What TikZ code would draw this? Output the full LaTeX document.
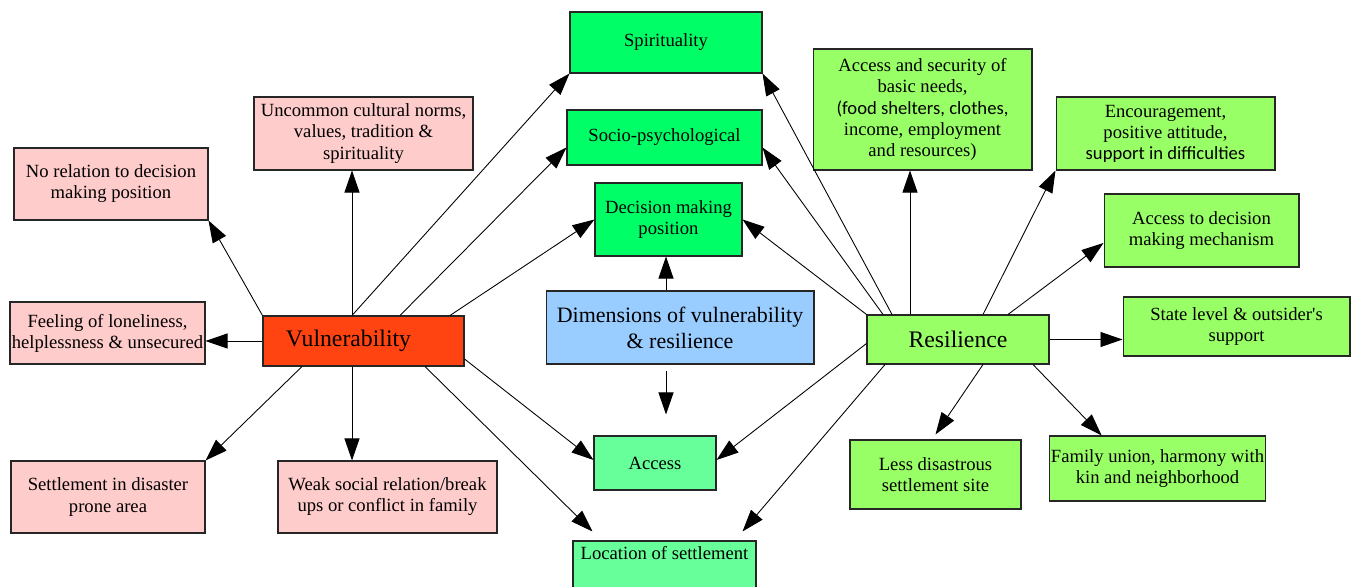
\documentclass[tikz,border=0pt]{standalone}
\usepackage{fontspec}
\setmainfont{Liberation Serif}
\newfontfamily\calib{Carlito}
\usepackage{tikz}
\usetikzlibrary{arrows.meta}

\definecolor{vulcol}{HTML}{FF4411}
\definecolor{pinkcol}{HTML}{FFCCCC}
\definecolor{rescol}{HTML}{99FF66}
\definecolor{dimcol}{HTML}{00FF66}
\definecolor{acccol}{HTML}{66FF99}
\definecolor{bluecol}{HTML}{99CCFF}

\tikzset{
  box/.style={draw=black!85, line width=0.6pt, align=center, inner sep=1pt,
    font=\fontsize{10.6}{12}\selectfont},
  vulbox/.style={box, fill=pinkcol},
  resbox/.style={box, fill=rescol},
  dimbox/.style={box, fill=dimcol},
  accbox/.style={box, fill=acccol},
  bigbox/.style={box, font=\fontsize{13.5}{16}\selectfont},
  arr/.style={-{Triangle[length=0.44cm,width=0.3cm]}, line width=0.5pt}
}

\begin{document}
\begin{tikzpicture}[x=0.02cm, y=-0.02cm]
\useasboundingbox (0,0) rectangle (1353,587);
\fill[white] (0,0) rectangle (1353,587);

\node[dimbox, minimum width=3.84cm, minimum height=1.22cm] (spir) at (666,42.5) {Spirituality};
\node[dimbox, minimum width=3.9cm, minimum height=1.1cm] (socio) at (664.5,137.5) {Socio-psychological};
\node[dimbox, minimum width=2.94cm, minimum height=1.46cm] (decis) at (668.5,219.5) {Decision making\\position};
\node[box, fill=bluecol, font=\fontsize{12.5}{14.7}\selectfont, minimum width=5.36cm, minimum height=1.46cm] (dims) at (680,327.5) {Dimensions of vulnerability\\\& resilience};
\node[accbox, minimum width=2.44cm, minimum height=1.08cm] (access) at (655,463) {Access};
\node[accbox, minimum width=3.66cm, minimum height=1.4cm, label={[anchor=north, inner sep=3pt, font=\fontsize{10.6}{12}\selectfont]north:Location of settlement}] (locat) at (664.5,576) {};

\node[bigbox, fill=vulcol, minimum width=4.02cm, minimum height=1.0cm] (vuln) at (363.5,341) {Vulnerability\hspace{0.6cm}};
\node[bigbox, fill=rescol, minimum width=3.64cm, minimum height=0.98cm] (resil) at (958,339.5) {Resilience};

\node[vulbox, minimum width=4.38cm, minimum height=1.46cm] (uncommon) at (363.5,133.5) {Uncommon cultural norms,\\values, tradition \&\\spirituality};
\node[vulbox, minimum width=3.88cm, minimum height=1.44cm] (norel) at (111,184) {No relation to decision\\making position};
\node[vulbox, minimum width=3.9cm, minimum height=1.24cm] (lonely) at (107.5,333) {Feeling of loneliness,\\helplessness \& unsecured};
\node[vulbox, minimum width=3.88cm, minimum height=1.44cm] (settle) at (108,497) {Settlement in disaster\\prone area};
\node[vulbox, minimum width=4.38cm, minimum height=1.44cm] (weak) at (387.5,497) {Weak social relation/break\\ups or conflict in family};

\node[resbox, minimum width=4.38cm, minimum height=2.42cm] (basic) at (922.5,109.5) {Access and security of\\basic needs,\\{\calib (food shelters, clothes,}\\income, employment\\and resources)};
\node[resbox, minimum width=4.38cm, minimum height=1.46cm] (encour) at (1165.5,133.5) {Encouragement,\\positive attitude,\\{\calib support in difficulties}};
\node[resbox, minimum width=3.9cm, minimum height=1.46cm] (mech) at (1201.5,230.5) {Access to decision\\making mechanism};
\node[resbox, minimum width=4.54cm, minimum height=1.18cm] (state) at (1236.5,326.5) {State level \& outsider\textquotesingle s\\support};
\node[resbox, minimum width=3.42cm, minimum height=1.38cm] (lessdis) at (935.5,474.5) {Less disastrous\\settlement site};
\node[resbox, minimum width=4.3cm, minimum height=1.3cm] (family) at (1157.5,468.5) {Family union, harmony with\\kin and neighborhood};

\draw[arr] (vuln.north west) -- (norel.south east);
\draw[arr] ([xshift=-0.23cm]vuln.north) -- ([xshift=-0.23cm]vuln.north |- uncommon.south);
\draw[arr] ([xshift=-0.23cm]vuln.north) -- (spir.south west);
\draw[arr] ([xshift=0.73cm]vuln.north) -- ([yshift=-0.2cm]socio.west);
\draw[arr] ([xshift=1.73cm]vuln.north) -- (decis.west);
\draw[arr] (vuln.west) -- (vuln.west -| lonely.east);
\draw[arr] ([xshift=-1.23cm]vuln.south) -- (settle.north east);
\draw[arr] ([xshift=-0.23cm]vuln.south) -- ([xshift=-0.23cm]vuln.south |- weak.north);
\draw[arr] ([xshift=1.23cm]vuln.south) -- ([xshift=0.4cm,yshift=0.18cm]locat.north west);
\draw[arr] ([yshift=-0.36cm]vuln.east) -- ([yshift=0.06cm]access.west);

\draw[arr] (resil.north west) -- (decis.east);
\draw[arr] ([xshift=-1.5cm]resil.north) -- ([yshift=-0.2cm]socio.east);
\draw[arr] ([xshift=-1.32cm]resil.north) -- (spir.south east);
\draw[arr] ([xshift=-0.96cm]resil.north) -- ([xshift=-0.96cm]resil.north |- basic.south);
\draw[arr] ([xshift=0.5cm]resil.north) -- (encour.south west);
\draw[arr] ([xshift=1.0cm]resil.north) -- ([yshift=-0.25cm]mech.west);
\draw[arr] (resil.east) -- (resil.east -| state.west);
\draw[arr] ([xshift=1.5cm]resil.south) -- ([xshift=1.06cm]family.north west);
\draw[arr] ([xshift=0.5cm]resil.south) -- ([yshift=0.1cm]lessdis.north);
\draw[arr] ([yshift=-0.08cm]resil.west) -- ([yshift=0.06cm]access.east);
\draw[arr] ([xshift=-1.46cm]resil.south) -- ([xshift=-0.28cm,yshift=0.18cm]locat.north east);

\draw[arr] ([xshift=-0.28cm]dims.north) -- ([xshift=-0.28cm]dims.north |- decis.south);
\draw[arr, shorten <=0.12cm, shorten >=0.42cm] ([xshift=-0.28cm]dims.south) -- ([xshift=-0.28cm]dims.south |- access.north);
\end{tikzpicture}
\end{document}
